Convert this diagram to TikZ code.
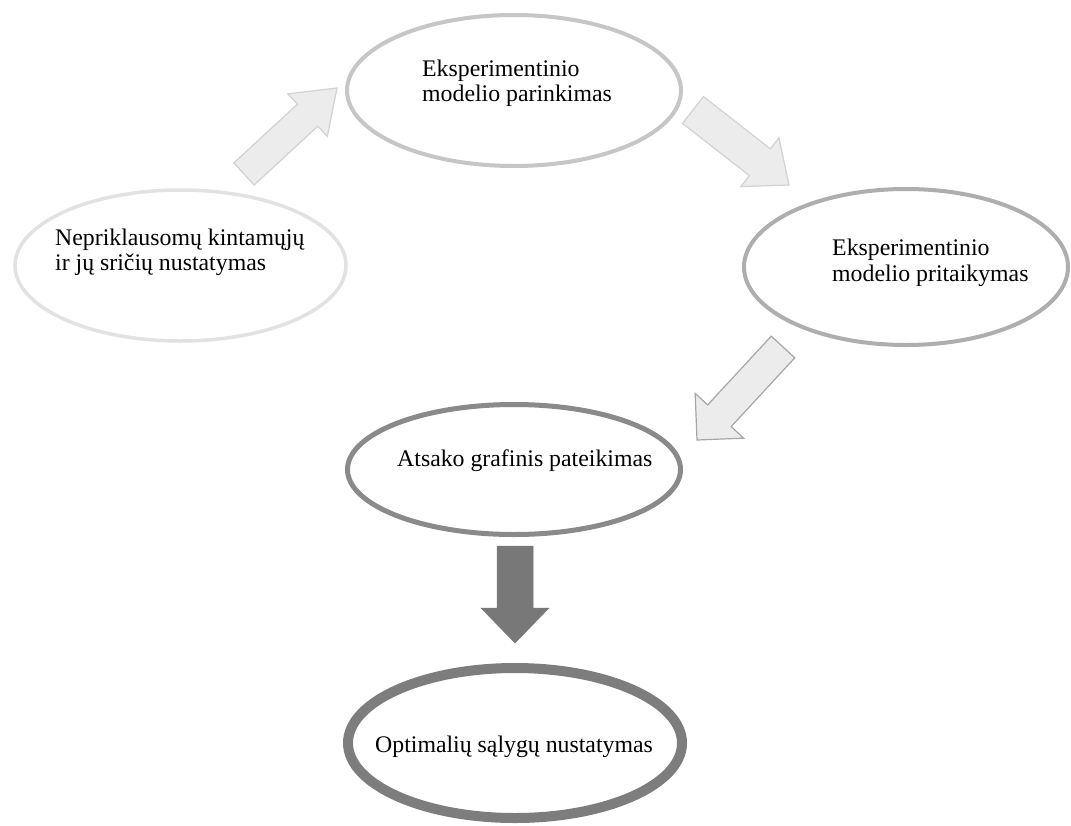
\documentclass[tikz,border=0pt]{standalone}
\usepackage{fontspec}
\setmainfont{Liberation Serif}
\usetikzlibrary{shapes.geometric,calc}
\definecolor{ea}{HTML}{E2E2E2}
\definecolor{eb}{HTML}{C6C6C6}
\definecolor{ec}{HTML}{AEAEAE}
\definecolor{ed}{HTML}{8A8A8A}
\definecolor{ee}{HTML}{7D7D7D}
\definecolor{afill}{HTML}{ECECEC}
\definecolor{aline}{HTML}{D2D2D2}
\definecolor{alinec}{HTML}{A6A6A6}
\definecolor{dfill}{HTML}{787878}
\newcommand\blockarr[6]{%
  \coordinate (hb) at ($(#2)!#5!(#1)$);
  \draw[#6] ($(#1)!#3!90:(#2)$) -- ($(hb)!#3!90:(#2)$) -- ($(hb)!#4!90:(#2)$)
    -- (#2) -- ($(hb)!#4!-90:(#2)$) -- ($(hb)!#3!-90:(#2)$) -- ($(#1)!#3!-90:(#2)$) -- cycle;
}
\begin{document}
\begin{tikzpicture}[x=1pt,y=-1pt,
  ell/.style={draw, ellipse, inner sep=0pt, fill=white},
  txt/.style={anchor=base west, inner sep=0pt, font=\fontsize{23.8}{26}\selectfont},
  lightarr/.style={fill=afill, draw=aline, line width=1.2pt, line join=miter},
  midarr/.style={fill=afill, draw=alinec, line width=1.2pt, line join=miter},
  darkarr/.style={fill=dfill, draw=dfill, line width=0.5pt}
  ]
\useasboundingbox (0,0) rectangle (1071,825);
\fill[white] (0,0) rectangle (1071,825);

% ellipses
\node[ell, draw=ea, line width=3.5pt, minimum width=331pt, minimum height=151pt] (e1) at (180.5,265.5) {};
\node[ell, draw=eb, line width=4pt, minimum width=334pt, minimum height=151pt] (e2) at (514,90.5) {};
\node[ell, draw=ec, line width=4pt, minimum width=324pt, minimum height=156pt] (e3) at (906,267) {};
\node[ell, draw=ed, line width=5pt, minimum width=333pt, minimum height=130pt] (e4) at (514,469.5) {};
\node[ell, draw=ee, line width=10pt, minimum width=334pt, minimum height=150pt] (e5) at (515,743) {};

% texts
\node[txt] (t1a) at (55,245) {Nepriklausomų kintamųjų};
\node[txt] (t1b) at (55,270) {ir jų sričių nustatymas};
\node[txt] (t2a) at (422,76) {Eksperimentinio};
\node[txt] (t2b) at (422,101) {modelio parinkimas};
\node[txt] (t3a) at (832,255) {Eksperimentinio};
\node[txt] (t3b) at (832,281) {modelio pritaikymas};
\node[txt] (t4) at (397,466) {Atsako grafinis pateikimas};
\node[txt] (t5) at (375,752) {Optimalių sąlygų nustatymas};

% arrows
\coordinate (a1s) at (244,174);
\coordinate (a1e) at (337,88);
\coordinate (a2s) at (693,110);
\coordinate (a2e) at (789,185);
\coordinate (a3s) at (783,347);
\coordinate (a3e) at (697,440);
\coordinate (a4s) at ($(e4.south)+(1,9)$);
\coordinate (a4e) at ($(e5.north)+(0,-20)$);
\blockarr{a1s}{a1e}{15pt}{29pt}{40pt}{lightarr}
\blockarr{a2s}{a2e}{17pt}{31pt}{37pt}{lightarr}
\blockarr{a3s}{a3e}{16pt}{33pt}{33pt}{midarr}
\blockarr{a4s}{a4e}{18pt}{34pt}{35pt}{darkarr}
\end{tikzpicture}
\end{document}
